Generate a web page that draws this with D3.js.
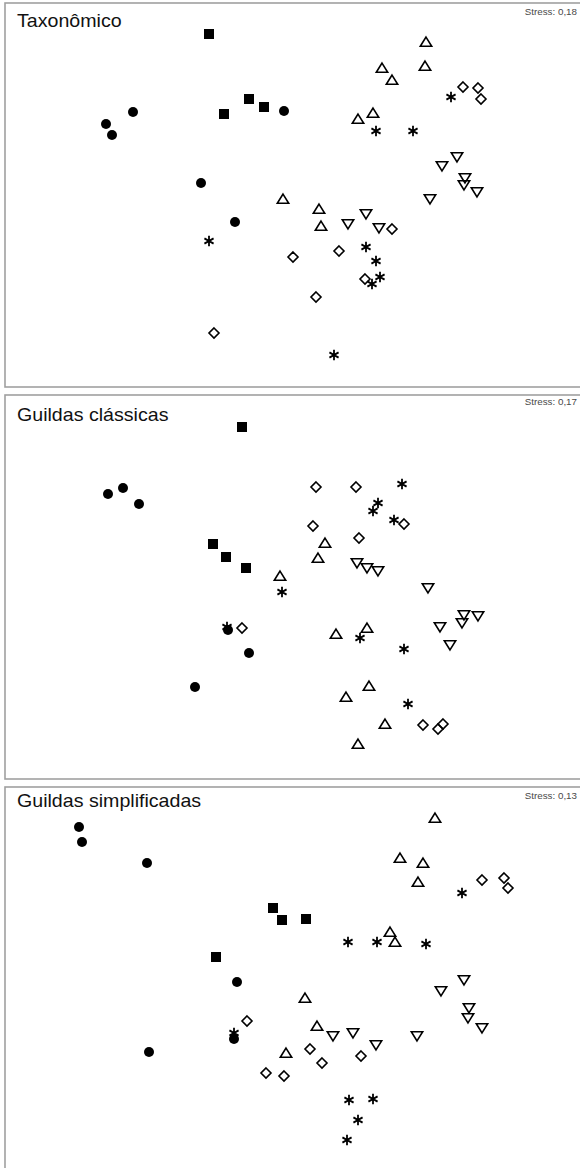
<!DOCTYPE html>
<html><head><meta charset="utf-8">
<script src="https://cdn.jsdelivr.net/npm/d3@7"></script>
<style>body{margin:0;background:#fff} svg{display:block}</style>
</head><body><svg id="c" width="580" height="1168"></svg>
<script>
const panelTitles = ["Taxonômico", "Guildas clássicas", "Guildas simplificadas"];
const stressLabels = ["Stress: 0,18", "Stress: 0,17", "Stress: 0,13"];
const groupShapes = ["circle", "square", "triangleUp", "triangleDown", "diamond", "asterisk"];

// NMDS coordinates [axis1, axis2] — Taxonômico
const taxCircle = [[-1.57,0.83],[-1.84,0.71],[-1.78,0.60],[-0.06,0.84],[-0.89,0.12],[-0.55,-0.27]];
const taxSquare = [[-0.81,1.61],[-0.66,0.81],[-0.41,0.96],[-0.26,0.88]];
const taxTriUp = [[1.36,1.53],[1.35,1.29],[0.92,1.27],[1.02,1.15],[0.83,0.82],[0.68,0.76],[-0.07,-0.04],[0.29,-0.14],[0.31,-0.31]];
const taxTriDown = [[1.67,0.38],[1.52,0.29],[1.75,0.17],[1.74,0.10],[1.87,0.03],[1.40,-0.04],[0.76,-0.19],[0.58,-0.29],[0.89,-0.33]];
const taxDiamond = [[1.73,1.08],[1.88,1.07],[1.91,0.96],[0.03,-0.62],[1.02,-0.34],[0.49,-0.56],[0.75,-0.84],[0.26,-1.02],[-0.76,-1.38]];
const taxAsterisk = [[1.61,0.98],[0.86,0.64],[1.23,0.64],[-0.81,-0.46],[0.76,-0.52],[0.86,-0.66],[0.82,-0.89],[0.90,-0.82],[0.44,-1.60]];

// Guildas clássicas
const claCircle = [[-1.82,0.93],[-1.67,0.99],[-1.51,0.83],[-0.62,-0.43],[-0.41,-0.66],[-0.95,-1.00]];
const claSquare = [[-0.48,1.60],[-0.77,0.43],[-0.64,0.30],[-0.44,0.19]];
const claTriUp = [[-0.10,0.11],[0.35,0.44],[0.28,0.29],[0.46,-0.47],[0.77,-0.41],[0.79,-0.99],[0.56,-1.10],[0.95,-1.37],[0.68,-1.57]];
const claTriDown = [[0.67,0.24],[0.77,0.19],[0.88,0.16],[1.38,-0.01],[1.74,-0.28],[1.88,-0.29],[1.72,-0.36],[1.50,-0.40],[1.60,-0.58]];
const claDiamond = [[0.26,1.00],[0.66,1.00],[1.14,0.63],[0.23,0.61],[0.69,0.49],[-0.48,-0.41],[1.33,-1.38],[1.48,-1.42],[1.53,-1.37]];
const claAsterisk = [[1.12,1.03],[0.88,0.84],[0.83,0.76],[1.04,0.67],[-0.08,-0.05],[-0.63,-0.40],[0.70,-0.51],[1.14,-0.62],[1.18,-1.17]];

// Guildas simplificadas
const simCircle = [[-2.11,1.52],[-2.08,1.37],[-1.43,1.16],[-0.53,-0.03],[-0.56,-0.60],[-1.41,-0.73]];
const simSquare = [[-0.17,0.71],[-0.08,0.59],[0.16,0.60],[-0.74,0.22]];
const simTriUp = [[1.45,1.61],[1.10,1.21],[1.33,1.16],[1.28,0.97],[1.00,0.47],[1.05,0.37],[0.15,-0.19],[0.27,-0.47],[-0.04,-0.74]];
const simTriDown = [[0.43,-0.57],[0.63,-0.54],[0.86,-0.66],[1.27,-0.57],[1.51,-0.12],[1.74,-0.01],[1.79,-0.29],[1.78,-0.39],[1.92,-0.49]];
const simDiamond = [[1.92,0.99],[2.14,1.01],[2.18,0.91],[-0.43,-0.42],[0.20,-0.70],[0.32,-0.84],[0.71,-0.77],[-0.24,-0.94],[-0.06,-0.97]];
const simAsterisk = [[1.72,0.86],[0.58,0.37],[0.87,0.37],[1.36,0.35],[-0.56,-0.54],[0.59,-1.21],[0.83,-1.20],[0.68,-1.41],[0.57,-1.61]];

const panelData = [
  [taxCircle, taxSquare, taxTriUp, taxTriDown, taxDiamond, taxAsterisk],
  [claCircle, claSquare, claTriUp, claTriDown, claDiamond, claAsterisk],
  [simCircle, simSquare, simTriUp, simTriDown, simDiamond, simAsterisk]
];

const svg = d3.select("#c");
const panelTops = [3, 395, 787];
const titleOffsets = [24, 26, 20];
const stressOffsets = [12, 10, 12];
const panelH = 384;

function shapePath(s) {
  switch (s) {
    case "triangleUp": return "M0,-4.9L5.7,4.3L-5.7,4.3Z";
    case "triangleDown": return "M0,4.9L5.7,-4.3L-5.7,-4.3Z";
    case "diamond": return "M0,-5L5,0L0,5L-5,0Z";
    case "asterisk": {
      const r = 5.3, a = Math.PI / 6;
      const dx = r * Math.cos(a), dy = r * Math.sin(a);
      return `M0,${-r}L0,${r}M${-dx},${-dy}L${dx},${dy}M${-dx},${dy}L${dx},${-dy}`;
    }
  }
  return "";
}

panelData.forEach((groups, i) => {
  const top = panelTops[i];
  const x = d3.scaleLinear().domain([-2.85, 2.85]).range([5, 575]);
  const y = d3.scaleLinear().domain([1.92, -1.92]).range([top, top + panelH]);
  const g = svg.append("g");
  g.append("rect").attr("x", 5).attr("y", top).attr("width", 585).attr("height", panelH)
    .attr("fill", "#fff").attr("stroke", "#a0a0a0").attr("stroke-width", 1.6);
  g.append("text").attr("x", 17).attr("y", top + titleOffsets[i])
    .attr("font-family", "Liberation Sans, Arial, sans-serif").attr("font-size", 18)
    .attr("transform", `translate(17,0) scale(1.09,1) translate(-17,0)`)
    .attr("fill", "#111").text(panelTitles[i]);
  g.append("text").attr("x", 577).attr("y", top + stressOffsets[i])
    .attr("text-anchor", "end").attr("font-family", "Liberation Sans, Arial, sans-serif")
    .attr("font-size", 9.8).attr("fill", "#4a4a4a").text(stressLabels[i]);

  groups.forEach((pts, gi) => {
    const shape = groupShapes[gi];
    const sel = g.append("g").selectAll("." + shape).data(pts).enter();
    if (shape === "circle") {
      sel.append("circle").attr("cx", d => x(d[0])).attr("cy", d => y(d[1])).attr("r", 5).attr("fill", "#000");
    } else if (shape === "square") {
      sel.append("rect").attr("x", d => x(d[0]) - 5).attr("y", d => y(d[1]) - 5)
        .attr("width", 10).attr("height", 10).attr("fill", "#000");
    } else {
      sel.append("path").attr("d", shapePath(shape))
        .attr("transform", d => `translate(${x(d[0])},${y(d[1])})`)
        .attr("fill", "none").attr("stroke", "#000")
        .attr("stroke-width", shape === "asterisk" ? 1.8 : 1.6)
        .attr("stroke-linejoin", "miter");
    }
  });
});
</script></body></html>
